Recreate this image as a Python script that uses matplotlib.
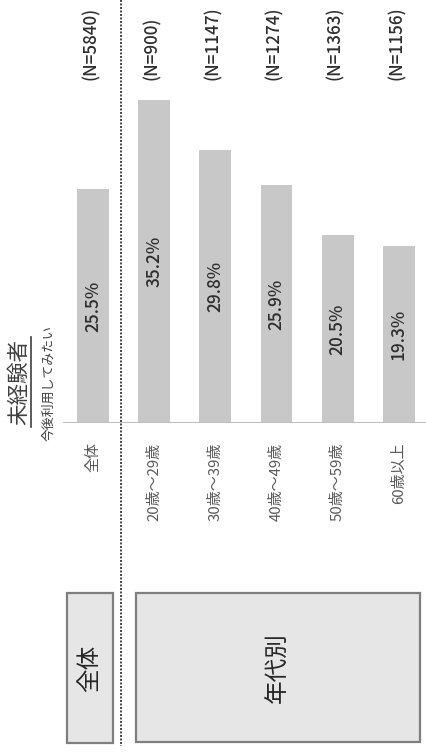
import matplotlib
matplotlib.use("Agg")
import matplotlib.pyplot as plt
from matplotlib.patches import Rectangle
from matplotlib.lines import Line2D
import matplotlib.transforms as mtransforms

plt.rcParams['font.family'] = ['Noto Sans CJK JP', 'DejaVu Sans']

# Data
categories = ["全体", "20歳～29歳", "30歳～39歳", "40歳～49歳", "50歳～59歳", "60歳以上"]
values = [25.5, 35.2, 29.8, 25.9, 20.5, 19.3]
sample_sizes = [5840, 900, 1147, 1274, 1363, 1156]
header_title = "未経験者"
header_sub = "今後利用してみたい"
group_labels = ["全体", "年代別"]

W, H = 427, 756
fig = plt.figure(figsize=(W / 100, H / 100), dpi=100)
fig.patch.set_facecolor("white")


def fx(x):
    return x / W


def fy(y):
    return 1 - y / H


# Bar axes: baseline near the lower third, bars grow upward
base_px = 423
px_per_pct = 9.17
ax = fig.add_axes([fx(63), fy(base_px), fx(427 - 63), base_px / H])
ax.set_ylim(0, base_px / px_per_pct)
ax.set_xlim(-0.49, 5.46)

xs = list(range(len(categories)))
ax.bar(xs, values, width=0.52, color="#c8c8c8", edgecolor="none", zorder=2)
ax.axhline(0, color="#bfbfbf", lw=1.5, zorder=3)

for x, v in zip(xs, values):
    ax.text(x, v / 2, f"{v}%", rotation=90, ha="center", va="center",
            fontsize=12.5, fontweight="medium", color="#2e2e2e", zorder=4)

ntrans = mtransforms.blended_transform_factory(ax.transData, ax.transAxes)
for x, n in zip(xs, sample_sizes):
    ax.text(x - 0.04, 1 - 80 / base_px, f"(N={n})", rotation=90, ha="center",
            va="bottom", fontsize=12.3, fontweight="medium", color="#2e2e2e",
            transform=ntrans)

ax.set_xticks(xs)
ax.set_xticklabels(categories, rotation=90, fontsize=10.8, color="#595959")
ax.tick_params(axis="x", length=0, pad=14)
ax.set_yticks([])
for s in ax.spines.values():
    s.set_visible(False)
ax.patch.set_alpha(0)

# Header text with underline
fig.text(fx(19), fy(382), header_title, rotation=90, ha="center", va="center",
         fontsize=15.5, color="#404040")
fig.add_artist(Line2D([fx(31), fx(31)], [fy(337), fy(427)], color="#404040", lw=1.2))
fig.text(fx(49), fy(383), header_sub, rotation=90, ha="center", va="center",
         fontsize=9.3, color="#404040")

# Dotted divider between overall and age groups
fig.add_artist(Line2D([fx(121), fx(121)], [fy(0), fy(746)], color="#444444",
                      lw=1.4, linestyle=(0, (1, 0.8))))

# Group boxes
boxes = [(67, 593, 113, 743), (136, 593, 420, 742)]
for (x0, y0, x1, y1), lab in zip(boxes, group_labels):
    fig.add_artist(Rectangle((fx(x0), fy(y1)), fx(x1 - x0), (y1 - y0) / H,
                             transform=fig.transFigure, facecolor="#e6e6e6",
                             edgecolor="#7f7f7f", lw=1.6))
    fig.text(fx((x0 + x1) / 2), fy((y0 + y1) / 2), lab, rotation=90,
             ha="center", va="center", fontsize=17, color="#262626")

fig.savefig("out.png", dpi=100, facecolor="white")
